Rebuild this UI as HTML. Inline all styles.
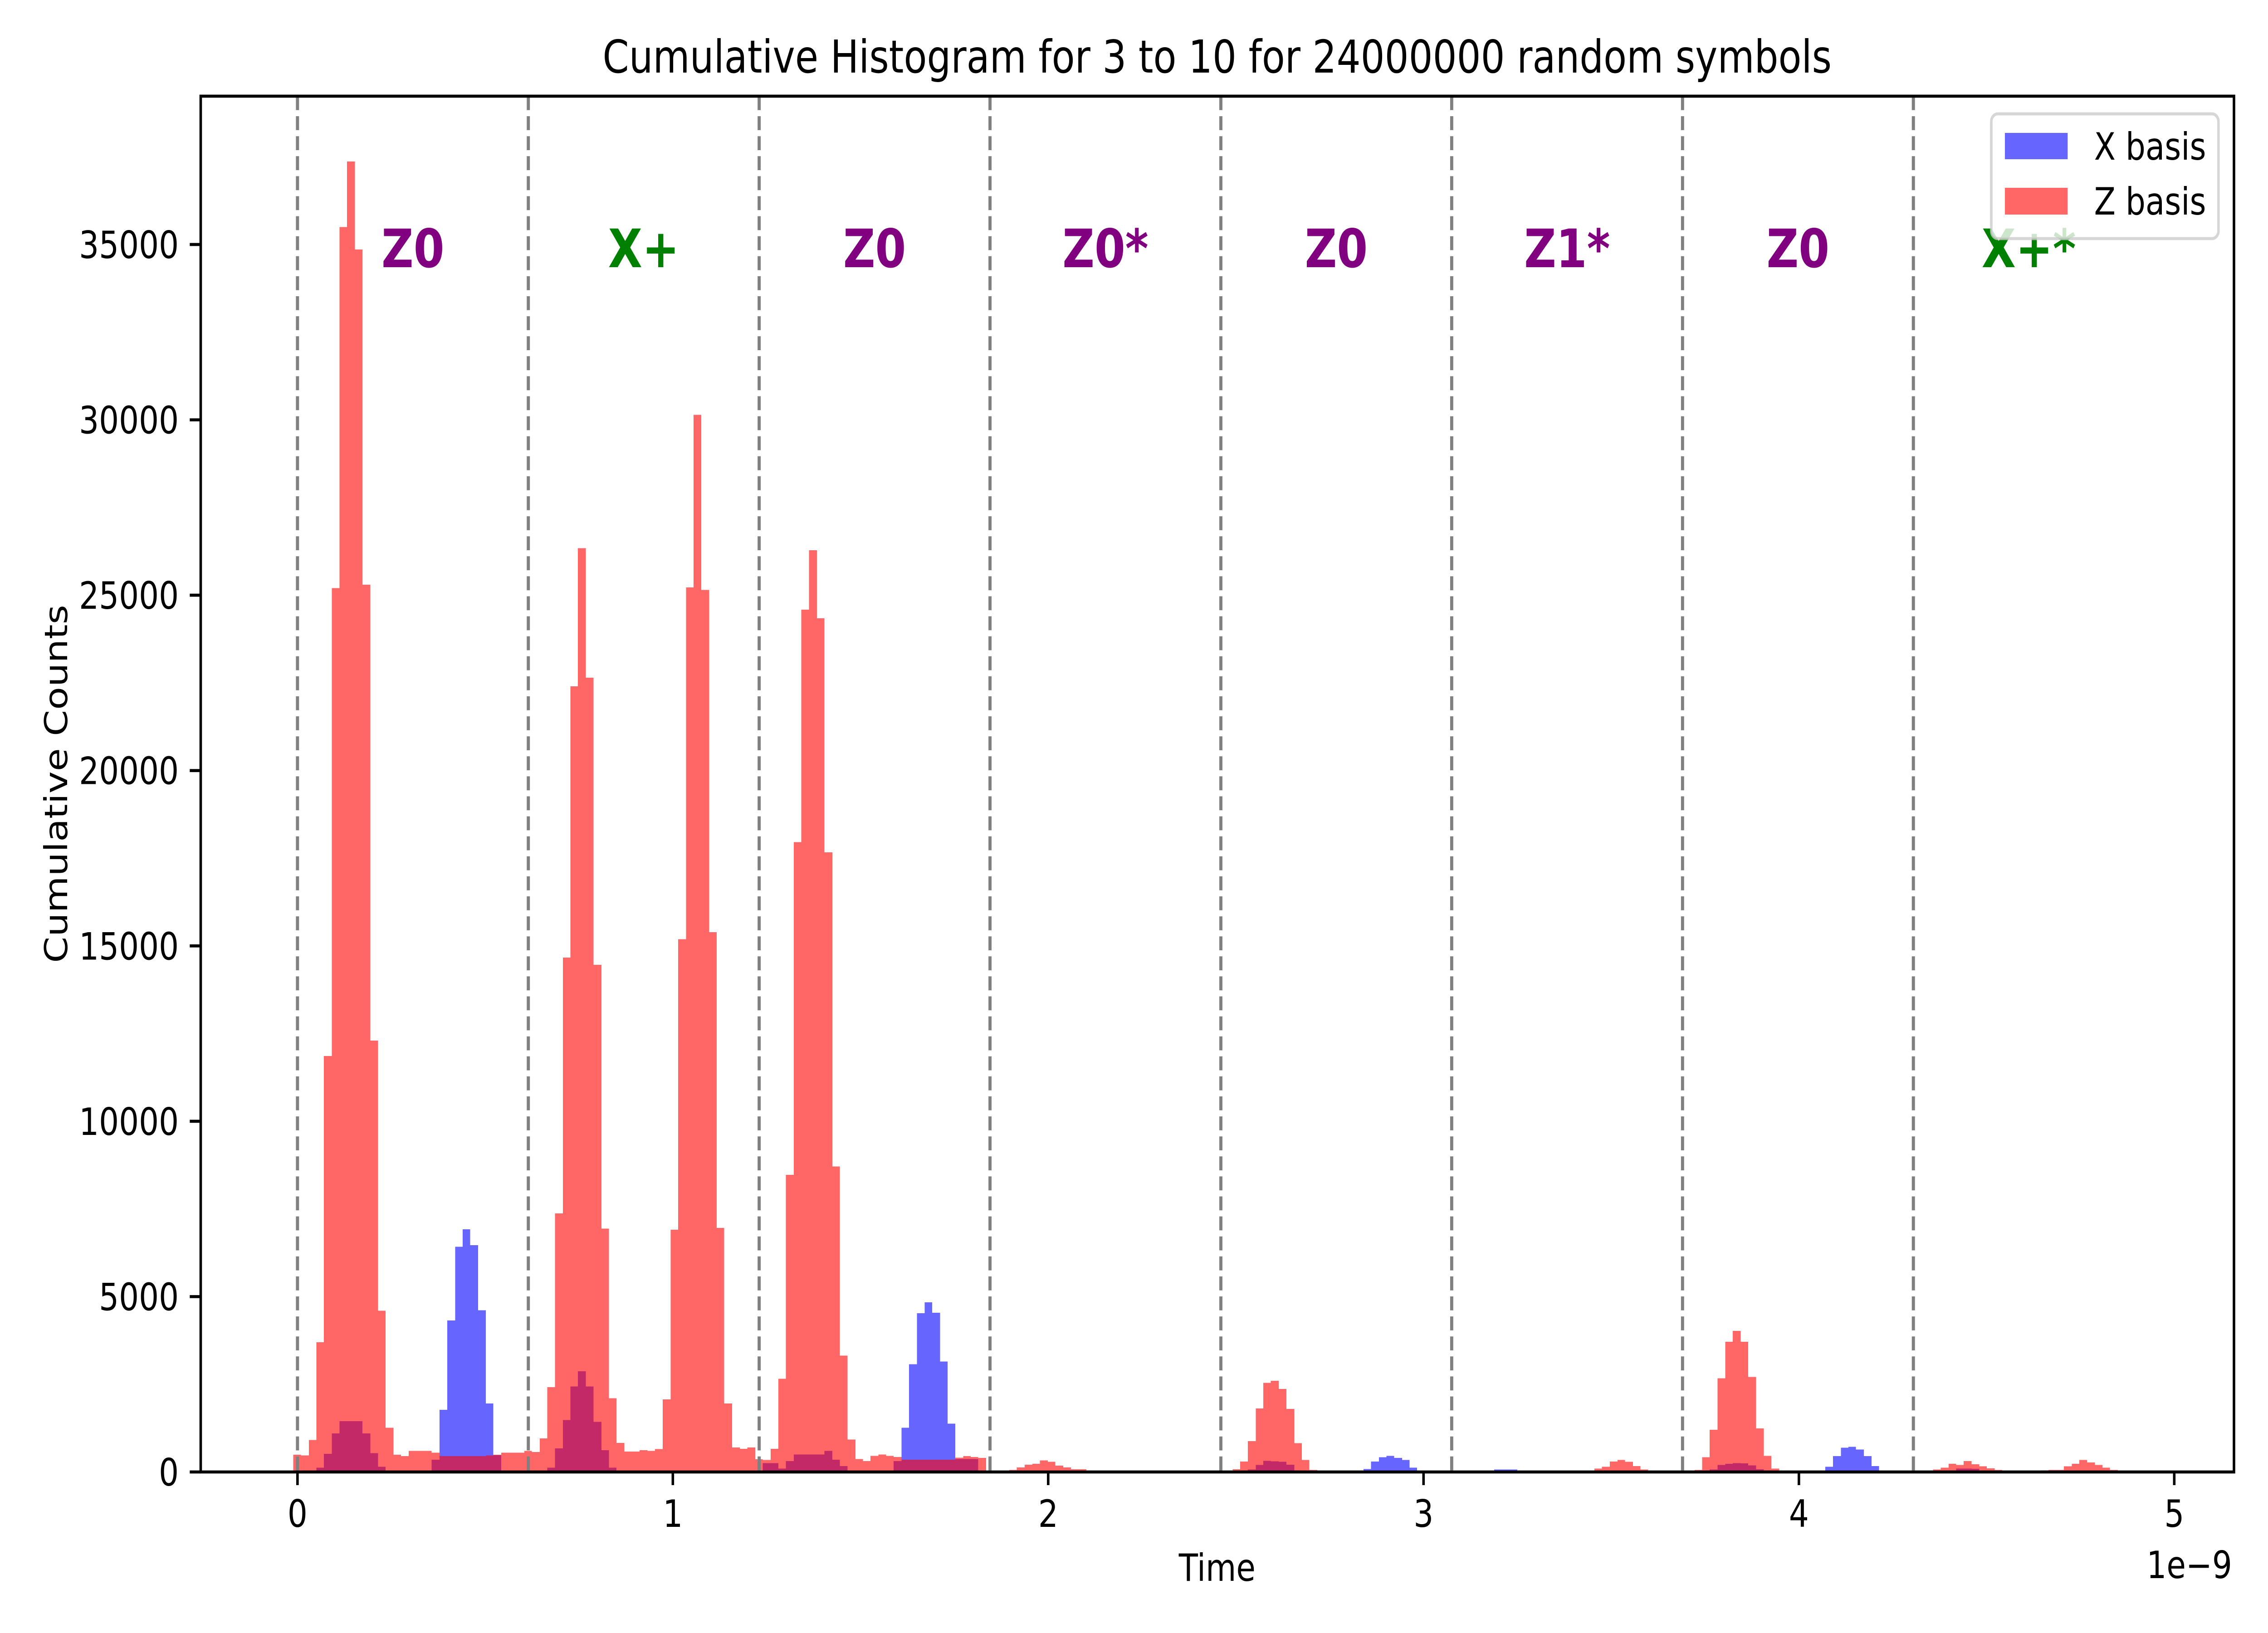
<!DOCTYPE html>
<html><head><meta charset="utf-8"><style>
html,body{margin:0;padding:0;background:#fff;width:100%;height:100%;overflow:hidden;}
svg{display:block;position:absolute;left:0;top:0;width:100vw;height:100vh;}
text{font-family:"DejaVu Sans","Liberation Sans",sans-serif;}
</style></head><body>
<svg id="chart" xmlns="http://www.w3.org/2000/svg" viewBox="0 0 6000 3600" preserveAspectRatio="none">
<rect x="0" y="0" width="6000" height="3600" fill="#fff"/>
<text x="3220" y="160" font-size="100" text-anchor="middle">Cumulative Histogram for 3 to 10 for 24000000 random symbols</text>
<defs><clipPath id="plotclip"><rect x="531" y="212" width="5379" height="3033"/></clipPath></defs>
<g id="bars-x" clip-path="url(#plotclip)"></g>
<g id="bars-z" clip-path="url(#plotclip)"></g>
<g id="vlines"></g>
<g id="symlabels"></g>
<rect x="531" y="212" width="5379" height="3033" fill="none" stroke="#000" stroke-width="6.7"/>
<g id="xticks"></g>
<g id="yticks"></g>
<text x="3220" y="3485" font-size="83" text-anchor="middle">Time</text>
<text x="5905" y="3479" font-size="83" text-anchor="end">1e−9</text>
<text x="0" y="0" font-size="83" text-anchor="middle" dominant-baseline="central" transform="translate(150,1728) rotate(-90)">Cumulative Counts</text>
<g>
<rect x="5268" y="251" width="601" height="275" rx="17" fill="#fff" fill-opacity="0.8" stroke="#cccccc" stroke-opacity="0.8" stroke-width="6.7"/>
<rect x="5304" y="293" width="166" height="58" fill="#0000ff" fill-opacity="0.6"/>
<text x="5540" y="352" font-size="83">X basis</text>
<rect x="5304" y="414" width="166" height="59" fill="#ff0000" fill-opacity="0.6"/>
<text x="5540" y="473" font-size="83">Z basis</text>
</g>
</svg>
<script>
const binStart = -0.0112;
const binWidth = 0.02051;
const zCounts = [
490,470,910,3700,11860,25200,35500,37370,34860,25300,
12300,4600,1260,490,450,600,600,600,550,450,
450,450,450,450,450,470,490,550,550,550,
600,570,960,2420,7370,14670,22400,26340,22650,14460,
6940,2100,830,580,580,620,600,650,2070,6910,
15190,25220,30140,25150,15390,6960,1950,700,660,700,
360,340,660,2660,8470,17960,24590,26280,24340,17670,
8710,3320,925,370,310,460,500,460,430,350,
350,350,350,350,350,350,410,450,430,400,
0,0,0,60,130,210,230,330,290,180,
130,80,80,0,0,0,0,0,0,0,
0,0,0,0,0,0,0,0,0,0,
0,0,80,300,880,1810,2540,2600,2370,1800,
820,340,60,0,18,18,0,0,0,0,
0,0,0,0,0,0,0,0,0,0,
0,0,0,0,0,0,0,0,0,0,
0,0,18,0,0,0,0,0,18,100,
150,300,340,290,165,72,0,0,0,0,
18,30,60,420,1200,2670,3710,4020,3710,2710,
1240,460,100,10,10,30,5,5,5,5,
5,5,5,5,5,5,5,5,5,15,
0,30,30,70,120,230,200,310,220,160,
105,55,30,30,30,10,30,45,55,55,
160,230,345,270,200,120,55,40,30,10
];
const xCounts = [
0,0,0,120,520,1100,1450,1450,1450,1100,
540,150,0,0,0,0,0,0,350,1770,
4320,6420,6920,6470,4610,1950,480,0,0,0,
0,0,0,120,670,1480,2440,2870,2440,1430,
620,120,0,0,0,0,0,0,0,0,
0,0,0,0,0,0,0,0,0,0,
0,250,250,100,310,500,500,500,500,600,
350,170,0,0,0,0,0,0,310,1260,
3070,4530,4840,4540,3150,1380,370,370,370,0,
0,0,0,0,0,0,0,0,0,0,
0,0,0,0,0,0,0,0,0,0,
0,0,0,0,0,0,0,0,0,0,
0,0,0,0,70,200,315,306,290,207,
45,0,0,0,0,0,0,0,0,85,
300,420,460,400,340,125,0,0,0,0,
0,0,0,0,0,18,72,72,72,18,
0,0,0,0,0,0,0,0,0,0,
0,0,0,18,0,0,0,0,0,0,
0,0,0,0,70,200,230,250,245,190,
80,20,0,0,0,0,0,0,0,147,
450,690,720,640,450,170,0,0,0,0,
0,0,0,0,0,40,100,100,90,40,
0,0,0,0,0,0,0,0,0,0,
0,0,0,0,0,0,0,0,0,0
];
const xTickValues = [0,1,2,3,4,5];
const xTickLabels = ["0","1","2","3","4","5"];
const yTickValues = [0,5000,10000,15000,20000,25000,30000,35000];
const yTickLabels = ["0","5000","10000","15000","20000","25000","30000","35000"];
const boundaryTimes = [0,0.615,1.23,1.845,2.46,3.075,3.69,4.305];
const symbolNames = ["Z0","X+","Z0","Z0*","Z0","Z1*","Z0","X+*"];
const symbolColors = ["#800080","#008000","#800080","#800080","#800080","#800080","#800080","#008000"];

const NS = "http://www.w3.org/2000/svg";
function X(t){ return 787 + (t) * 993; }
function Y(c){ return 3245 - c * (3245 - 539) / 35000; }
function mk(tag, attrs, parent){ const e = document.createElementNS(NS, tag); for (const k in attrs) e.setAttribute(k, attrs[k]); parent.appendChild(e); return e; }

function drawBars(counts, gid, color, name){
  const g = document.getElementById(gid);
  counts.forEach(function(v, k){
    if (v <= 0) return;
    const x1 = Math.round(X(binStart + k * binWidth));
    const x2 = Math.round(X(binStart + (k + 1) * binWidth));
    const yTop = Y(v);
    const r = mk('rect', {x: x1, y: yTop, width: x2 - x1, height: 3245 - yTop, fill: color, 'fill-opacity': 0.6, 'shape-rendering': 'crispEdges'}, g);
    
    
  });
}
drawBars(xCounts, 'bars-x', '#0000ff', 'x-basis');
drawBars(zCounts, 'bars-z', '#ff0000', 'z-basis');

const vl = document.getElementById('vlines');
boundaryTimes.forEach(function(t, i){
  const l = mk('line', {x1: X(t), x2: X(t), y1: 212, y2: 3245, stroke: '#808080', 'stroke-width': 8.3, 'stroke-dasharray': '30.8 13.3'}, vl);
  
  
});
const sl = document.getElementById('symlabels');
symbolNames.forEach(function(s, i){
  const tx = mk('text', {x: X(boundaryTimes[i] + 0.3075), y: 589, 'font-size': 117, 'font-weight': 'bold', 'text-anchor': 'middle', fill: symbolColors[i]}, sl);
  tx.textContent = s;
  
  
});
const xg = document.getElementById('xticks');
xTickValues.forEach(function(v, i){
  const t = mk('line', {x1: X(v), x2: X(v), y1: 3245, y2: 3274, stroke: '#000', 'stroke-width': 6.7}, xg);
  
  
  const tx = mk('text', {x: X(v), y: 3366, 'font-size': 83, 'text-anchor': 'middle'}, xg);
  tx.textContent = xTickLabels[i];
  
  
});
const yg = document.getElementById('yticks');
yTickValues.forEach(function(v, i){
  const t = mk('line', {x1: 502, x2: 531, y1: Y(v), y2: Y(v), stroke: '#000', 'stroke-width': 6.7}, yg);
  
  
  const tx = mk('text', {x: 473, y: Y(v) + 30, 'font-size': 83, 'text-anchor': 'end'}, yg);
  tx.textContent = yTickLabels[i];
  
  
});
</script>
</body></html>
